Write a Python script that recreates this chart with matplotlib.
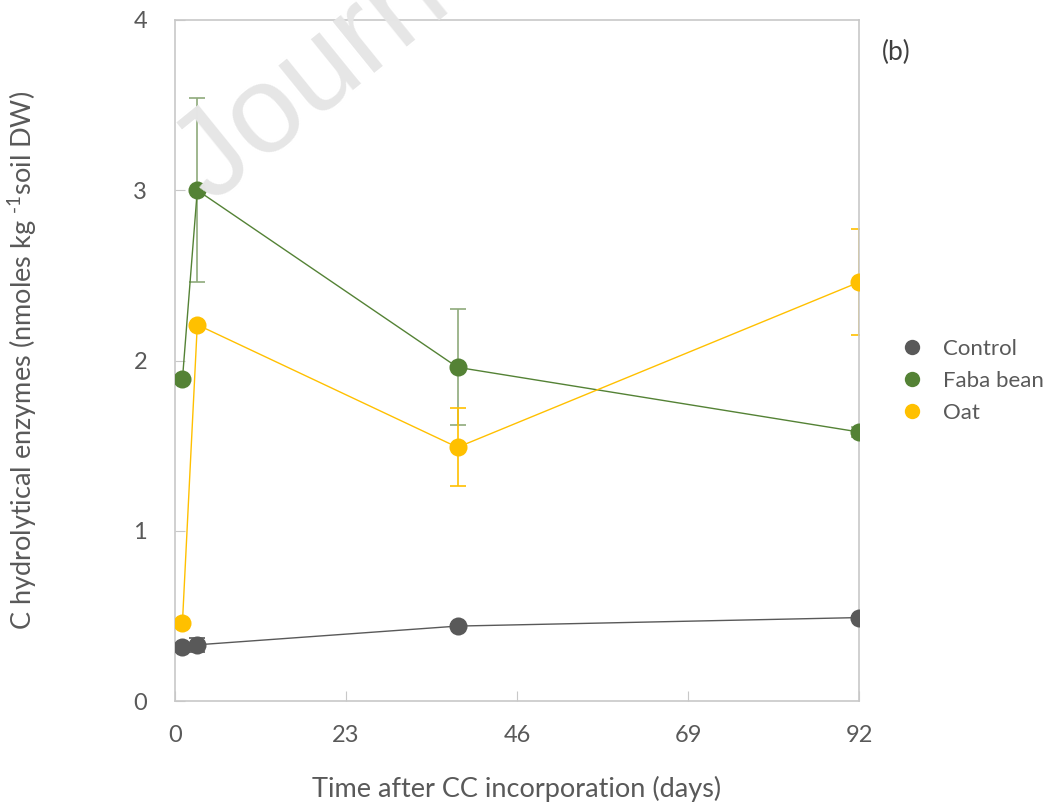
import numpy as np
import matplotlib
matplotlib.use('Agg')
import matplotlib.pyplot as plt

# days after cover crop incorporation
days = [1, 3, 38, 92]

series_names = ['Control', 'Faba bean', 'Oat']
control = [0.32, 0.33, 0.44, 0.49]
control_err = [0.01, 0.04, 0.01, 0.01]
faba = [1.89, 3.00, 1.96, 1.58]
faba_err = [0.01, 0.54, 0.34, 0.03]
oat = [0.46, 2.21, 1.49, 2.46]
oat_err = [0.01, 0.01, 0.23, 0.31]

colors = ['#595959', '#548235', '#FFC000']
err_colors = ['#595959', '#8faa7c', '#FFC000']

xticks = [0, 23, 46, 69, 92]
yticks = [0, 1, 2, 3, 4]

plt.rcParams['font.family'] = ['Lato', 'DejaVu Sans']
plt.rcParams['mathtext.fontset'] = 'custom'
plt.rcParams['mathtext.rm'] = 'Lato'
plt.rcParams['mathtext.it'] = 'Lato:italic'
txt = '#595959'
spine = '#c8c8c8'

fig = plt.figure(figsize=(10.54, 8.10), dpi=100)
ax = fig.add_axes([175 / 1054, 1 - 701 / 810, (859 - 175) / 1054, (701 - 20) / 810])
ax.patch.set_alpha(0)

# journal watermark, faint, behind everything (cut by the page edge as in the source)
fig.text(212 / 1054, 1 - 205 / 810, 'Journal Pre-proof', fontsize=90, color='#e6e6e6',
         family='Liberation Sans', rotation=39, rotation_mode='anchor',
         ha='left', va='baseline', zorder=0)

data = [control, faba, oat]
errs = [control_err, faba_err, oat_err]
for name, vals, e, c, ec in zip(series_names, data, errs, colors, err_colors):
    ax.errorbar(days, vals, yerr=e, fmt='none', ecolor=ec, elinewidth=1.2,
                capsize=6, capthick=1.2, zorder=2)
    ax.plot(days, vals, '-', color=c, lw=1, zorder=3)
    ax.plot(days, vals, 'o', color=c, ms=13, mec='none', zorder=4, label=name)

ax.set_xlim(0, 92)
ax.set_ylim(0, 4)
ax.set_xticks(xticks)
ax.set_yticks(yticks)
ax.tick_params(axis='both', direction='in', length=7, color=spine, labelcolor=txt,
               labelsize=17)
ax.tick_params(axis='x', pad=17)
ax.tick_params(axis='y', pad=20)
for s in ax.spines.values():
    s.set_color(spine)
    s.set_linewidth(1.2)

ax.set_xlabel('Time after CC incorporation (days)', fontsize=19.5, color=txt, labelpad=22)
ax.set_ylabel('C hydrolytical enzymes (nmoles kg $^{\\text{-1}}$soil DW)', fontsize=19.5,
              color=txt, labelpad=68)

ax.text(1.054, 0.953, '(b)', transform=ax.transAxes, fontsize=19, color='#404040',
        ha='center', va='center')

handles, labels = ax.get_legend_handles_labels()
leg = ax.legend(handles, labels, loc='center left', bbox_to_anchor=(1.035, 0.47),
                frameon=False, fontsize=16, labelcolor=txt, handlelength=0.8,
                handletextpad=1.0, labelspacing=0.55, markerscale=0.85)

fig.savefig('out.png', dpi=100)
